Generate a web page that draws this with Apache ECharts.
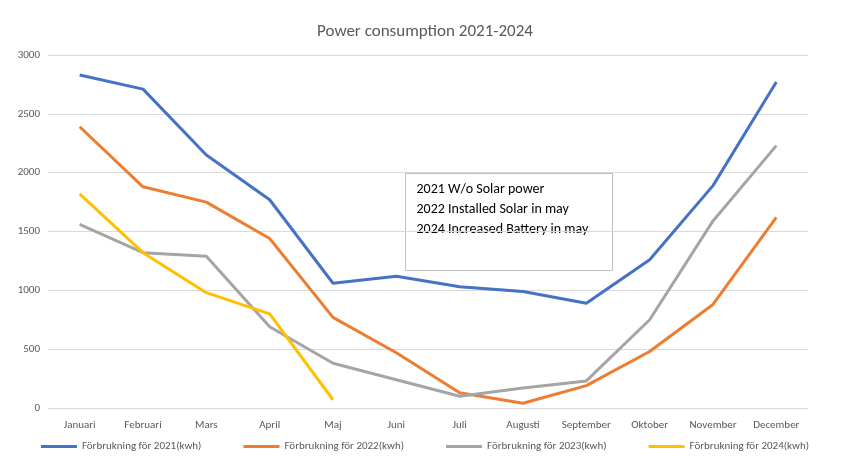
<!DOCTYPE html>
<html>
<head>
<meta charset="utf-8">
<script src="https://cdn.jsdelivr.net/npm/echarts@6/dist/echarts.min.js"></script>
</head>
<body style="margin:0">
<div id="ch" style="width:850px;height:473px;"></div>
<script>
var months = ['Januari','Februari','Mars','April','Maj','Juni','Juli','Augusti','September','Oktober','November','December']
var y2021 = [2830,2710,2150,1770,1060,1120,1030,990,890,1260,1890,2770]
var y2022 = [2390,1880,1750,1440,770,470,130,40,190,480,880,1620]
var y2023 = [1560,1320,1290,690,380,240,100,170,230,750,1590,2230]
var y2024 = [1820,1320,980,800,70]
var names = ['Förbrukning för 2021(kwh)','Förbrukning för 2022(kwh)','Förbrukning för 2023(kwh)','Förbrukning för 2024(kwh)']
var colors = ['#4472c4','#ed7d31','#a5a5a5','#ffc000']
var note = '2021 W/o Solar power\n2022 Installed Solar in may\n2024 Increased Battery in may'

var chartInst = echarts.init(document.getElementById('ch'))
var series = [y2021, y2022, y2023, y2024].map(function(d, i) {
    return {
        name: names[i], type: 'line', data: d, symbol: 'none',
        lineStyle: {width: 3, color: colors[i]}, itemStyle: {color: colors[i]}
    }
})
chartInst.setOption({
    textStyle: {fontFamily: 'Calibri, Carlito, "Open Sans", sans-serif'},
    title: {text: 'Power consumption 2021-2024', left: 'center', top: 18,
        textStyle: {fontSize: 17, fontWeight: 'normal', color: '#595959'}},
    legend: {bottom: 16, itemGap: 42, itemWidth: 36, itemHeight: 3, icon: 'rect',
        textStyle: {fontSize: 11, color: '#595959'}},
    grid: {left: 48, right: 42, top: 55, bottom: 65},
    xAxis: {type: 'category', data: months,
        axisLine: {lineStyle: {color: '#d9d9d9'}}, axisTick: {show: false},
        axisLabel: {color: '#595959', fontSize: 11, margin: 12, interval: 0}},
    yAxis: {type: 'value', min: 0, max: 3000, interval: 500,
        axisLabel: {color: '#595959', fontSize: 11, formatter: function(v) { return String(v) }},
        splitLine: {lineStyle: {color: '#d9d9d9'}}},
    graphic: [{
        type: 'group', left: 405, top: 173,
        children: [
            {type: 'rect', shape: {width: 207, height: 97}, style: {fill: '#fff', stroke: '#bfbfbf', lineWidth: 1}},
            {type: 'text', left: 11, top: 6, style: {text: note, fontSize: 14, lineHeight: 20, fill: '#000', fontFamily: 'Calibri, Carlito, "Open Sans", sans-serif'}}
        ]
    }],
    series: series
})
</script>
</body>
</html>
